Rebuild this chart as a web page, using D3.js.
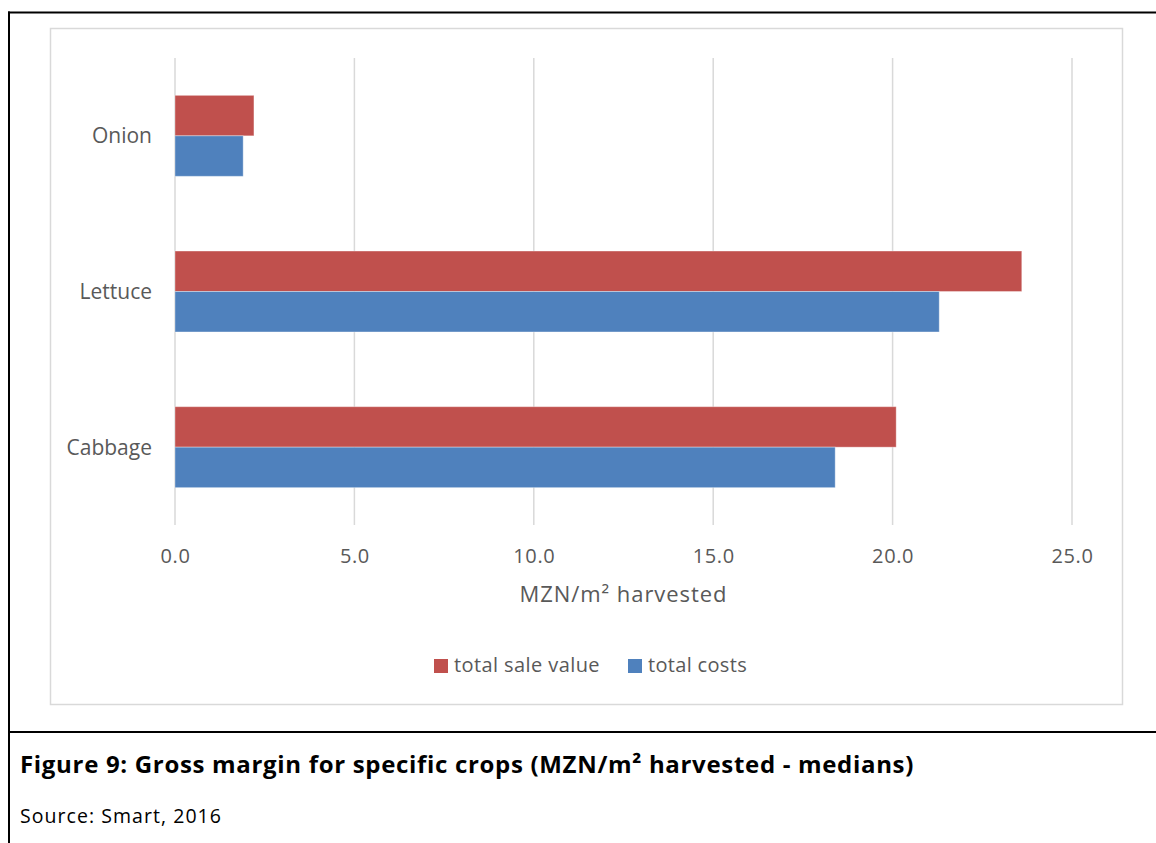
<!DOCTYPE html>
<html>
<head>
<meta charset="utf-8">
<script src="https://cdn.jsdelivr.net/npm/d3@7"></script>
<style>
  html, body { margin: 0; padding: 0; background: #fff; }
  svg { display: block; }
</style>
</head>
<body>
<svg id="chart" width="1156" height="843"></svg>
<script>
// Crop gross margin data (MZN per m² harvested, medians)
const crops = ["Onion", "Lettuce", "Cabbage"];
const saleValue = [2.2, 23.6, 20.1];
const totalCosts = [1.9, 21.3, 18.4];
const seriesNames = ["total sale value", "total costs"];
const seriesColors = ["#C0504D", "#4F81BD"];
const xTicks = [0, 5, 10, 15, 20, 25];
const axisTitle = "MZN/m² harvested";
const captionTitle = "Figure 9: Gross margin for specific crops (MZN/m² harvested - medians)";
const captionSource = "Source: Smart, 2016";

const svg = d3.select("#chart");
const font = "'Open Sans', 'DejaVu Sans', sans-serif";
const textGrey = "#595959";

// Grow a text's font size (up to maxSize), then its letter spacing, so it spans the given width
function fitWidth(sel, width, maxSize) {
  sel.each(function () {
    const t = d3.select(this);
    if (maxSize) {
      const size = +t.attr("font-size");
      const w0 = this.getComputedTextLength();
      t.attr("font-size", Math.min(maxSize, size * width / w0));
    }
    const n = this.getNumberOfChars();
    const w = this.getComputedTextLength();
    if (n > 1) t.attr("letter-spacing", Math.max(0, (width - w) / n));
  });
}

// Figure frame (document table lines)
svg.append("line").attr("x1", 8).attr("x2", 1156).attr("y1", 12.5).attr("y2", 12.5)
  .attr("stroke", "#000").attr("stroke-width", 2);
svg.append("line").attr("x1", 9).attr("x2", 9).attr("y1", 11.5).attr("y2", 843)
  .attr("stroke", "#000").attr("stroke-width", 2);
svg.append("line").attr("x1", 8).attr("x2", 1156).attr("y1", 732).attr("y2", 732)
  .attr("stroke", "#000").attr("stroke-width", 2);

// Chart area border
svg.append("rect").attr("x", 50.5).attr("y", 28.5).attr("width", 1072).attr("height", 676)
  .attr("fill", "#fff").attr("stroke", "#d9d9d9").attr("stroke-width", 1.5);

const plot = { left: 175, right: 1072, top: 58, bottom: 525 };

const x = d3.scaleLinear().domain([0, 25]).range([plot.left, plot.right]);
const y = d3.scaleBand().domain(crops).range([plot.top, plot.bottom]).paddingInner(0.48).paddingOuter(0.24);
const sub = d3.scaleBand().domain(seriesNames).range([0, y.bandwidth()]);

// Vertical gridlines
svg.append("g").selectAll("line").data(xTicks).join("line")
  .attr("x1", d => x(d)).attr("x2", d => x(d))
  .attr("y1", plot.top).attr("y2", plot.bottom)
  .attr("stroke", "#d9d9d9").attr("stroke-width", 1.5);

// Bars
const rows = crops.map((c, i) => ({ crop: c, values: [saleValue[i], totalCosts[i]] }));
const groups = svg.append("g").selectAll("g").data(rows).join("g")
  .attr("transform", d => `translate(0,${y(d.crop)})`);
groups.selectAll("rect").data(d => d.values.map((v, k) => ({ v, k }))).join("rect")
  .attr("x", x(0))
  .attr("y", d => sub(seriesNames[d.k]))
  .attr("width", d => x(d.v) - x(0))
  .attr("height", sub.bandwidth())
  .attr("fill", d => seriesColors[d.k])
  .attr("stroke", "#fff").attr("stroke-opacity", 0.35).attr("stroke-width", 1);

// Bottom axis labels
const xAxis = d3.axisBottom(x).tickValues(xTicks).tickFormat(d3.format(".1f")).tickSize(0).tickPadding(0);
const gx = svg.append("g").attr("transform", `translate(0,${plot.bottom + 38})`).call(xAxis);
gx.select(".domain").remove();
gx.selectAll("text").attr("fill", textGrey).attr("font-size", 20).attr("font-family", font).attr("dy", 0)
  .attr("letter-spacing", 0.6);

// Category labels
const yAxis = d3.axisLeft(y).tickSize(0).tickPadding(0);
const gy = svg.append("g").attr("transform", `translate(${plot.left - 23},0)`).call(yAxis);
gy.select(".domain").remove();
gy.selectAll("text").attr("fill", textGrey).attr("font-size", 21).attr("font-family", font).attr("dy", "0.36em");

// Axis title
svg.append("text").attr("x", (plot.left + plot.right) / 2).attr("y", 602)
  .attr("text-anchor", "middle").attr("fill", textGrey)
  .attr("font-size", 22).attr("font-family", font).text(axisTitle)
  .call(fitWidth, 208);

// Legend
const legendItems = [{ name: seriesNames[0], color: seriesColors[0], x: 434, w: 146 },
                     { name: seriesNames[1], color: seriesColors[1], x: 628, w: 99 }];
const lg = svg.append("g").selectAll("g").data(legendItems).join("g")
  .attr("transform", d => `translate(${d.x},659)`);
lg.append("rect").attr("width", 14).attr("height", 14).attr("fill", d => d.color);
lg.append("text").attr("x", 20).attr("y", 13).attr("fill", textGrey)
  .attr("font-size", 20).attr("font-family", font).text(d => d.name)
  .each(function (d) { d3.select(this).call(fitWidth, d.w); });

// Caption
svg.append("text").attr("x", 20).attr("y", 773).attr("font-weight", "bold")
  .attr("font-size", 22).attr("fill", "#000").attr("font-family", font)
  .text(captionTitle).call(fitWidth, 894, 24);
svg.append("text").attr("x", 20).attr("y", 823)
  .attr("font-size", 18).attr("fill", "#000").attr("font-family", font)
  .text(captionSource).call(fitWidth, 202, 19.5);
</script>
</body>
</html>
